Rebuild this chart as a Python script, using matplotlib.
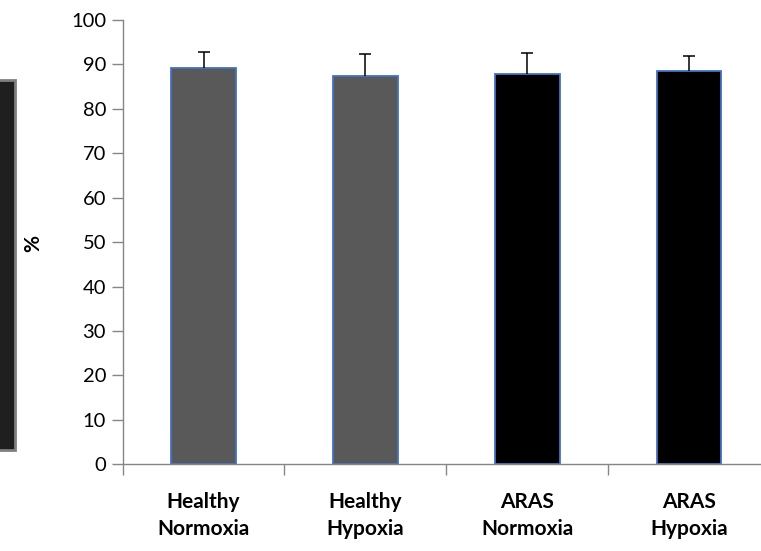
import matplotlib.pyplot as plt
from matplotlib.patches import Rectangle

# group labels, mean % and upper SD
groups = ['Healthy\nNormoxia', 'Healthy\nHypoxia', 'ARAS\nNormoxia', 'ARAS\nHypoxia']
means = [89.2, 87.5, 87.8, 88.5]
sd = [3.6, 4.8, 4.8, 3.4]
colors = ['#595959', '#595959', '#000000', '#000000']
yticks = list(range(0, 101, 10))

plt.rcParams['font.family'] = ['Lato', 'DejaVu Sans']

fig = plt.figure(figsize=(7.61, 5.51), dpi=100)
ax = fig.add_axes([0.1612, 0.1573, 0.8506, 0.8064])

x = list(range(len(groups)))
ax.bar(x, means, width=0.4, color=colors, edgecolor='#4472C4', linewidth=1.3, zorder=2)
eb = ax.errorbar(x, means, yerr=[[0] * len(sd), sd], fmt='none', ecolor='black',
                 elinewidth=1.1, capsize=4.5, capthick=1.1, zorder=3)
# only the upper whisker is shown
eb[1][0].set_visible(False)

ax.set_xlim(-0.5, len(groups) - 0.5)
ax.set_ylim(0, 100)
ax.set_yticks(yticks)
ax.tick_params(axis='y', labelsize=14.5, length=8, width=1, color='#868686', pad=4)

# category ticks sit between the groups, labels under the centres
ax.set_xticks([i - 0.5 for i in range(len(groups) + 1)])
ax.set_xticklabels([])
ax.set_xticks(x, minor=True)
ax.set_xticklabels(groups, minor=True, fontsize=15, fontweight='bold', linespacing=1.4)
ax.tick_params(axis='x', which='major', length=8, width=1, color='#868686')
ax.tick_params(axis='x', which='minor', length=0, pad=20)

for s in ['top', 'right']:
    ax.spines[s].set_visible(False)
for s in ['left', 'bottom']:
    ax.spines[s].set_color('#868686')
    ax.spines[s].set_linewidth(1)

fig.text(33 / 761, 1 - 243 / 551, '%', rotation=90, fontsize=15, fontweight='bold',
         ha='center', va='center')

# dark panel on the left edge
fig.patches.append(Rectangle((-0.01, 1 - 450 / 551), 15 / 761 + 0.01, 370 / 551,
                             transform=fig.transFigure, facecolor='#1f1f1f',
                             edgecolor='#808080', linewidth=2))

fig.savefig('out.png', dpi=100)
